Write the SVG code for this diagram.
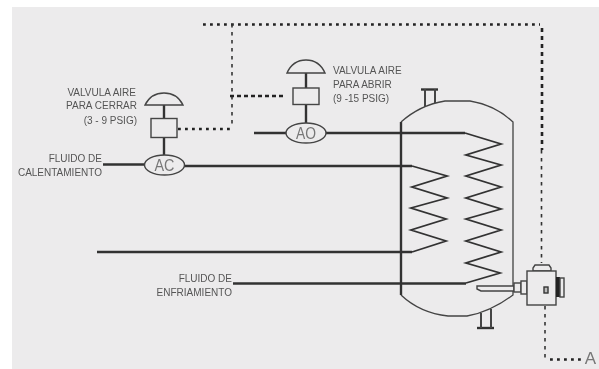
<svg xmlns="http://www.w3.org/2000/svg" width="599" height="369" viewBox="0 0 599 369">
<style>
.t{font-family:"Liberation Sans",Arial,sans-serif;font-size:10px;fill:#555}
.e{text-anchor:end}
.m{font-family:"Liberation Sans",Arial,sans-serif;font-size:16px;fill:#777;text-anchor:middle}
.th{fill:none;stroke:#333;stroke-width:2.4}
.l{fill:none;stroke:#444;stroke-width:1.3}
.c{fill:none;stroke:#333;stroke-width:1.8}
.b{fill:#ecebec;stroke:#444;stroke-width:1.4}
.d{fill:none;stroke:#222;stroke-width:2.6;stroke-dasharray:2.8 4.2}
.d2{fill:none;stroke:#333;stroke-width:1.6;stroke-dasharray:3.6 4.4}
.d3{fill:none;stroke:#222;stroke-width:2.4;stroke-dasharray:4 3}
</style>
<defs><filter id="s" x="-2%" y="-2%" width="104%" height="104%"><feGaussianBlur stdDeviation="0.35"/></filter></defs>
<rect width="599" height="369" fill="#fff"/>
<rect x="12" y="7" width="587" height="362" fill="#ecebec"/>
<g filter="url(#s)">
<g id="connectors">
<path class="d" d="M203 24.500H540"/>
<path class="d" d="M542 28V150" style="stroke-dasharray:4 4"/>
<path class="d2" d="M541.500 150V263"/>
<path class="d2" d="M232 24V128"/>
<path class="d" d="M178 129H231"/>
<path class="d3" d="M230 96H286"/>
<path class="d2" d="M545 298V358"/>
<path class="d" d="M550 359.500H583"/>
<path class="th" d="M103 164.500H145"/>
<path class="th" d="M184 166H412"/>
<path class="th" d="M254 133H287"/>
<path class="th" d="M326 133H465"/>
<path class="th" d="M97 252H412"/>
<path class="th" d="M233 283.500H466"/>
<path class="th" d="M164 105V118M164 137V155"/>
<path class="th" d="M306 73V88M306 104V123"/>
</g>
<g id="tank">
<path class="th" d="M401 122V295"/>
<path class="l" d="M401 122Q420 105 445 101H470Q495 105 513 122V295Q490 312 467 316H448Q420 313 401 295"/>
<path class="th" d="M421 89.500H438"/>
<path class="l" d="M425 89V107M435 89V103" style="stroke-width:2"/>
<path class="th" d="M477 328H494"/>
<path class="l" d="M481 313V328M491 309V328" style="stroke-width:2"/>
<path class="c" d="M465 133L501 144L466 155L501 165L466 176L501 187L466 198L501 209L466 219L501 230L466 241L501 252L466 263L500 273L466 283"/>
<path class="c" d="M412 166L447 176L412 187L447 198L411 208L446 219L411 230L446 241L412 252"/>
</g>
<g id="valvula-cerrar">
<path class="b" d="M145 105C149 97 156 93 164 93C172 93 179 97 183 105Z"/>
<rect class="b" x="151" y="118.500" width="26" height="19"/>
<text class="t e" x="136" y="96">VALVULA AIRE</text>
<text class="t e" x="137" y="109">PARA CERRAR</text>
<text class="t e" x="137" y="124">(3 - 9 PSIG)</text>
</g>
<g id="valvula-abrir">
<path class="b" d="M287 73C291 64 298 60 306 60C314 60 321 64 325 73Z"/>
<rect class="b" x="293" y="88" width="26" height="16.500"/>
<text class="t" x="333" y="74">VALVULA AIRE</text>
<text class="t" x="333" y="88">PARA ABRIR</text>
<text class="t" x="333" y="102">(9 -15 PSIG)</text>
</g>
<g id="AC">
<ellipse class="b" cx="164.500" cy="165" rx="20" ry="10"/>
<text class="m" x="164.500" y="171" textLength="20" lengthAdjust="spacingAndGlyphs">AC</text>
</g>
<g id="AO">
<ellipse class="b" cx="306" cy="133" rx="20" ry="10"/>
<text class="m" x="306" y="139" textLength="20" lengthAdjust="spacingAndGlyphs">AO</text>
</g>
<g id="label-calentamiento">
<text class="t e" x="102" y="162">FLUIDO DE</text>
<text class="t e" x="102" y="176">CALENTAMIENTO</text>
</g>
<g id="label-enfriamiento">
<text class="t e" x="232" y="282">FLUIDO DE</text>
<text class="t e" x="232" y="296">ENFRIAMIENTO</text>
</g>
<g id="instrumento">
<path class="b" d="M477 286H514V291H481L477 289Z"/>
<rect class="b" x="514" y="283" width="7" height="9"/>
<rect class="b" x="521" y="281" width="6" height="13"/>
<path class="b" d="M533 271V268L535 265H549L551 268V271Z"/>
<rect class="b" x="527" y="271" width="29" height="34"/>
<rect x="556" y="277" width="4" height="20" fill="#222"/>
<rect class="b" x="560" y="278" width="4" height="19"/>
<rect x="544" y="287" width="4" height="6" fill="#bbb" stroke="#333" stroke-width="1.400"/>
</g>
<g id="salida-A">
<text class="m" x="590.500" y="364" style="font-size:17px">A</text>
</g>
</g>
</svg>
